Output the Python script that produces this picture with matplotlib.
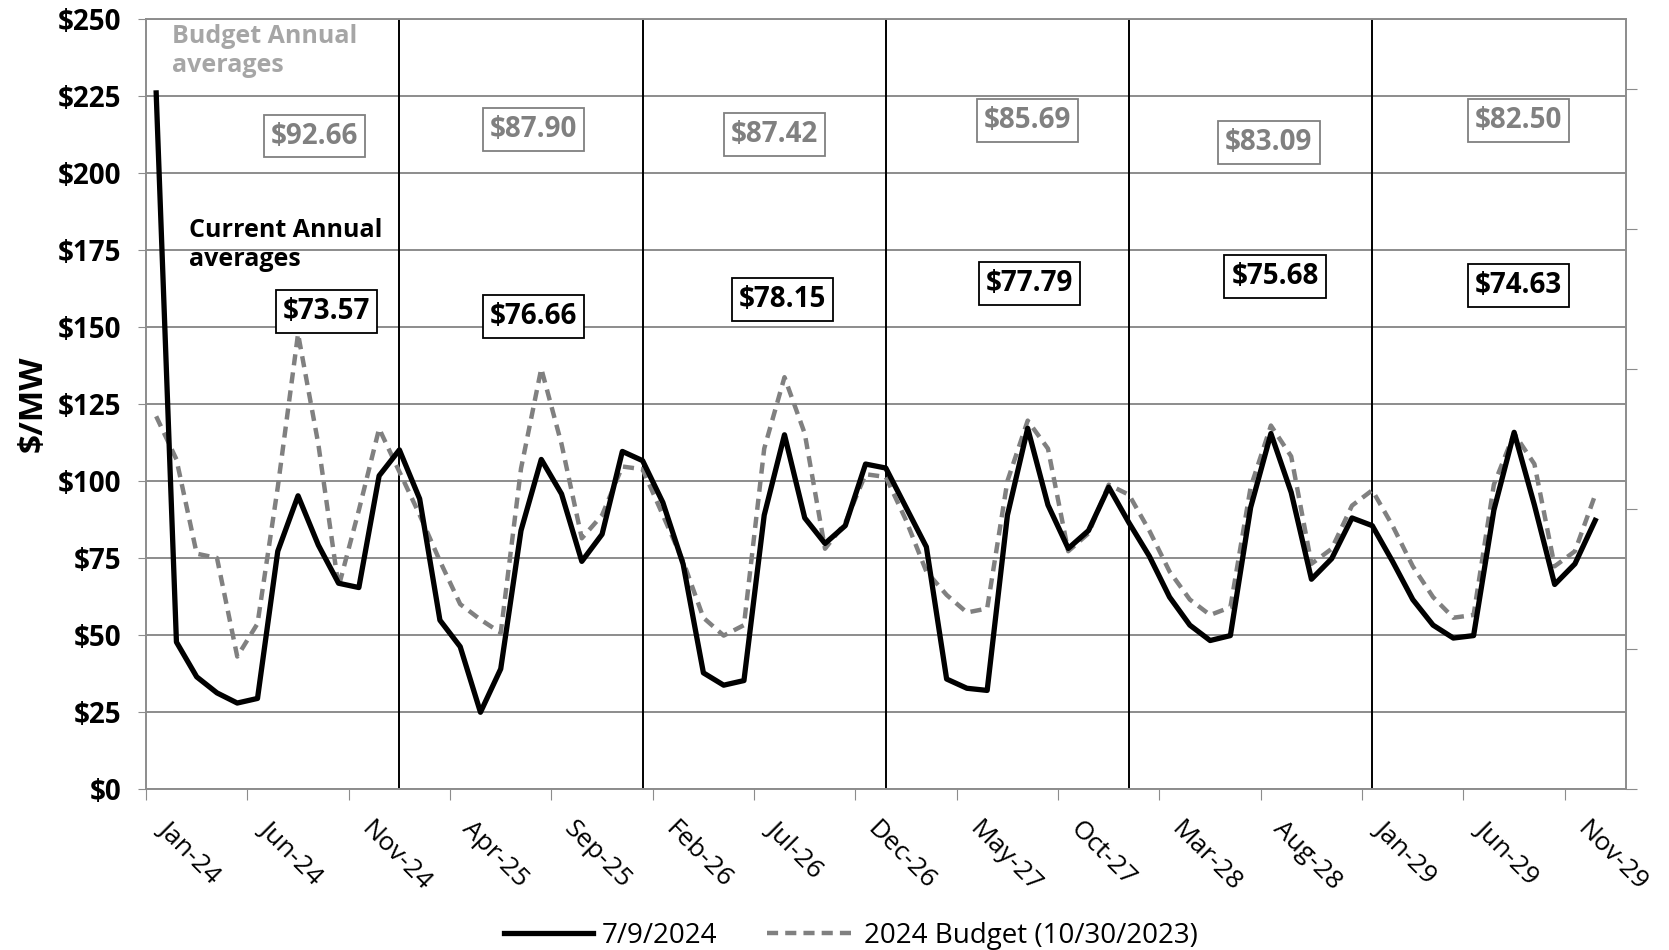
import numpy as np
import matplotlib
matplotlib.use("Agg")
import matplotlib.pyplot as plt
from matplotlib.transforms import ScaledTranslation

plt.rcParams['font.family'] = ['Open Sans', 'DejaVu Sans']

# monthly values Jan-24 .. Dec-29
current = [226, 47.7, 36.4, 31.2, 27.9, 29.4, 77.2, 95.2, 79.2, 66.8, 65.4, 101.7,
           110.1, 94.2, 54.8, 46.2, 24.9, 39.0, 83.9, 107.0, 95.8, 73.9, 82.7, 109.6,
           106.6, 93.0, 73.0, 37.7, 33.7, 35.2, 88.9, 115.0, 88.0, 79.7, 85.5, 105.5,
           104.2, 91.4, 78.6, 35.7, 32.7, 32.0, 88.9, 117.1, 92.2, 78.1, 83.9, 98.0,
           86.4, 75.6, 62.3, 53.2, 48.2, 49.8, 91.4, 115.4, 96.3, 68.1, 74.8, 88.0,
           85.5, 73.9, 61.5, 53.2, 49.0, 49.8, 90.5, 115.8, 92.2, 66.4, 73.1, 87.2]
budget = [121, 107, 76.4, 75.0, 43.0, 53.7, 98, 147.8, 112, 65.6, 90.5, 117,
          103, 89, 74, 60, 55, 50.7, 104, 136.5, 112, 81.4, 88.9, 104.7,
          103.8, 88.9, 73.9, 55.6, 49.8, 53.2, 110.5, 133.7, 115.4, 78.0, 86.4, 102.2,
          101.3, 87.2, 70.6, 63.0, 57.3, 58.6, 100, 119.6, 110.5, 77.2, 83.0, 98.8,
          95.5, 83.9, 70.6, 61.5, 56.5, 59.0, 98, 118, 108, 73.1, 78, 92,
          97, 85.5, 72.3, 62.3, 55.6, 56.5, 98.8, 115.4, 105.5, 72.3, 77.2, 95.5]

tick_labels = ['Jan-24', 'Jun-24', 'Nov-24', 'Apr-25', 'Sep-25', 'Feb-26', 'Jul-26',
               'Dec-26', 'May-27', 'Oct-27', 'Mar-28', 'Aug-28', 'Jan-29', 'Jun-29', 'Nov-29']

budget_avg = ['$92.66', '$87.90', '$87.42', '$85.69', '$83.09', '$82.50']
current_avg = ['$73.57', '$76.66', '$78.15', '$77.79', '$75.68', '$74.63']
budget_pos = [(7.8, 212), (18.6, 214), (30.5, 212.5), (43.0, 217), (54.9, 210), (67.2, 217)]
current_pos = [(8.4, 155), (18.6, 153.5), (30.9, 159), (43.1, 164), (55.2, 166.5), (67.2, 163.5)]

x = np.arange(len(current))

fig = plt.figure(figsize=(16.69, 9.5), dpi=100)
ax = fig.add_axes([0.0875, 0.1695, 0.8865, 0.8105])

ax.set_ylim(0, 250)
ax.set_xlim(-0.5, 72.5)
ax.set_yticks(np.arange(0, 251, 25))
ax.set_yticklabels(['$%d' % v for v in np.arange(0, 251, 25)], fontsize=20, fontweight='bold')
ax.grid(axis='y', color='#8c8c8c', linewidth=1.4)
ax.set_axisbelow(True)

# year separators
for yr in range(12, 72, 12):
    ax.axvline(yr, color='black', linewidth=1.4, zorder=1)

ax.plot(x, current, color='black', linewidth=3.8, label='7/9/2024', zorder=3)
ax.plot(x, budget, color='#808080', linewidth=3.2, dashes=(2.5, 1.6),
        label='2024 Budget (10/30/2023)', zorder=2)

# x tick labels drawn by hand so they can sit a bit right of the tick
xt = np.arange(-0.5, 72, 5)
ax.set_xticks(xt)
ax.set_xticklabels([])
trans = ax.get_xaxis_transform() + ScaledTranslation(16 / 100, -36 / 100, fig.dpi_scale_trans)
for pos, lab in zip(xt, tick_labels):
    ax.text(pos, 0, lab, transform=trans, rotation=-45, rotation_mode='anchor',
            ha='left', va='center', fontsize=19)

ax.tick_params(axis='x', length=8, color='#8c8c8c')
ax.tick_params(axis='y', length=6, color='#8c8c8c', pad=12)
for s in ax.spines.values():
    s.set_color('#8c8c8c')
    s.set_linewidth(1.4)

ax.set_ylabel('$/MW', fontsize=24, fontweight='bold', labelpad=6)

# secondary axis (no labels)
ax2 = ax.twinx()
ax2.set_ylim(0, 1.1)
ax2.set_yticks(np.arange(0, 1.01, 0.2))
ax2.set_yticklabels([])
ax2.tick_params(axis='y', length=8, color='#8c8c8c')
for s in ax2.spines.values():
    s.set_visible(False)

ax.text(0.8, 248.5, 'Budget Annual\naverages', color='#a6a6a6', fontsize=18,
        fontweight='bold', ha='left', va='top', linespacing=1.25)
ax.text(1.6, 185.5, 'Current Annual\naverages', color='black', fontsize=18,
        fontweight='bold', ha='left', va='top', linespacing=1.25)

for txt, (px, py) in zip(budget_avg, budget_pos):
    ax.text(px, py, txt, color='#808080', fontsize=20, fontweight='bold', ha='center',
            va='center', bbox=dict(boxstyle='square,pad=0.25', fc='white', ec='#808080', lw=1.3))
for txt, (px, py) in zip(current_avg, current_pos):
    ax.text(px, py, txt, color='black', fontsize=20, fontweight='bold', ha='center',
            va='center', bbox=dict(boxstyle='square,pad=0.25', fc='white', ec='black', lw=1.3))

fig.legend(loc='lower center', bbox_to_anchor=(0.51, -0.026), ncol=2, frameon=False,
           fontsize=20, handlelength=3.2, handletextpad=0.3, columnspacing=1.8)

fig.savefig('out.png', dpi=100)
